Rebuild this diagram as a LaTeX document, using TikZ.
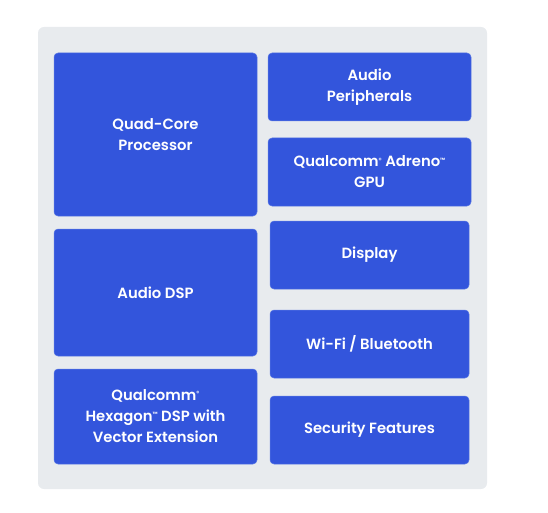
\documentclass[tikz,border=0pt]{standalone}
\usepackage{fontspec}
\setmainfont{Poppins}[BoldFont={Poppins SemiBold}]
\usepackage{tikz}
\usetikzlibrary{positioning}
\definecolor{qblue}{HTML}{3355DC}
\definecolor{qedge}{HTML}{5A78E4}
\definecolor{panelgray}{HTML}{E8EBEE}
\newcommand{\regsym}{\raisebox{0.6ex}{\fontsize{6bp}{6bp}\selectfont ®}}
\newcommand{\tmsym}{\raisebox{0.6ex}{\fontsize{6bp}{6bp}\selectfont ™}}
\tikzset{
  socbox/.style={rectangle,rounded corners=4bp,draw=qedge,line width=0.5bp,
    fill=qblue,text=white,align=center,inner sep=0pt,outer sep=0pt,
    font=\bfseries\fontsize{14.8bp}{21bp}\selectfont},
  leftbox/.style={socbox,minimum width=203bp},
  rightbox/.style={socbox,minimum width=203bp,minimum height=68bp},
  narrowbox/.style={socbox,minimum width=199bp,minimum height=68bp},
}

\begin{document}
\begin{tikzpicture}[x=1bp,y=-1bp]
  \useasboundingbox (0,0) rectangle (548,513);
  \fill[panelgray,rounded corners=6bp] (38,27) rectangle (487,489);

  % left column
  \node[leftbox,minimum height=163bp,anchor=north west] (qc) at (54,53) {Quad-Core\\Processor};
  \node[leftbox,minimum height=127bp,below=13bp of qc] (adsp) {Audio DSP};
  \node[leftbox,minimum height=95bp,below=13bp of adsp] (hex)
    {Qualcomm\regsym\\Hexagon\tmsym{} DSP with\\Vector Extension};

  % right column
  \node[rightbox,anchor=north west] (ap) at (268,53) {Audio\\Peripherals};
  \node[rightbox,below=17bp of ap] (gpu) {Qualcomm\regsym{} Adreno\tmsym\\GPU};
  \node[narrowbox,below=15bp of gpu] (disp) {Display};
  \node[narrowbox,below=21bp of disp] (wifi) {Wi-Fi / Bluetooth};
  \node[narrowbox,below=18bp of wifi] (sec) {Security Features};
\end{tikzpicture}
\end{document}
